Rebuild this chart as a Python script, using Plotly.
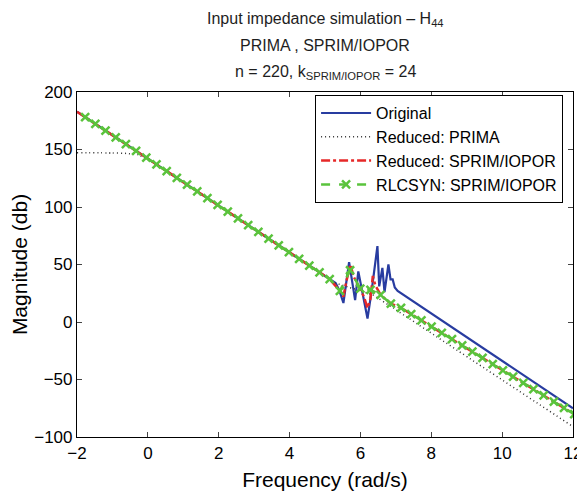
import plotly.graph_objects as go

# Original (full model)
orig_x = [-2.0, 5.30, 5.40, 5.52, 5.68, 5.85, 5.94, 6.20, 6.32, 6.48, 6.53, 6.62, 6.68, 6.79, 6.85, 6.91, 6.97, 7.05, 12.0]
orig_y = [182.8, 34.0, 28.0, 16.5, 52.0, 19.0, 44.0, 3.0, 28.0, 66.0, 31.0, 47.0, 26.0, 50.0, 37.0, 37.0, 30.0, 27.0, -75.0]

# Reduced: PRIMA
prima_x = [-2.0, -1.0, -0.6, -0.3, 0.0, 5.30, 5.80, 6.35, 6.93, 12.0]
prima_y = [147.2, 147.0, 146.6, 145.5, 141.5, 34.0, 29.0, 23.5, 12.0, -91.0]

# Reduced: SPRIM/IOPOR
sprim_x = [-2.0, 5.132, 5.42, 5.52, 5.60, 5.72, 5.80, 5.995, 6.10, 6.20, 6.28, 6.35, 6.42, 6.57, 6.858,
           7.146, 12.035]
sprim_y = [182.8, 37.3, 27.0, 22.0, 35.0, 50.0, 40.0, 29.0, 22.0, 12.0, 20.0, 40.0, 32.0, 23.5, 16.0,
           12.2, -80.2]

# RLCSYN: SPRIM/IOPOR (marker points)
rlc_x = [-1.770, -1.482, -1.195, -0.907, -0.620, -0.332, -0.044, 0.243, 0.531, 0.818,
         1.106, 1.394, 1.681, 1.969, 2.256, 2.544, 2.832, 3.119, 3.407, 3.694,
         3.982, 4.270, 4.557, 4.845, 5.132, 5.420, 5.708, 5.995, 6.283, 6.570,
         6.858, 7.146, 7.433, 7.721, 8.008, 8.296, 8.584, 8.871, 9.159, 9.446,
         9.734, 10.022, 10.309, 10.597, 10.884, 11.172, 11.460, 11.747, 12.035]
rlc_y = [178.1, 172.2, 166.4, 160.5, 154.6, 148.8, 142.9, 137.0, 131.2, 125.3,
         119.4, 113.6, 107.7, 101.8, 96.0, 90.1, 84.2, 78.4, 72.5, 66.6,
         60.8, 54.9, 49.0, 43.2, 37.3, 27.0, 45.0, 29.0, 28.0, 23.5,
         16.0, 12.2, 6.8, 1.4, -4.1, -9.5, -14.9, -20.4, -25.8, -31.2,
         -36.7, -42.1, -47.5, -53.0, -58.4, -63.9, -69.3, -74.7, -80.2]

x_ticks = [-2, 0, 2, 4, 6, 8, 10, 12]
y_ticks = [-100, -50, 0, 50, 100, 150, 200]

title_lines = ["Input impedance simulation – H<sub>44</sub>",
               "PRIMA , SPRIM/IOPOR",
               "n = 220, k<sub>SPRIM/IOPOR</sub> = 24"]

fig = go.Figure()
fig.add_trace(go.Scatter(x=orig_x, y=orig_y, mode="lines", name="Original",
                         line=dict(color="rgb(40,60,160)", width=2.2)))
fig.add_trace(go.Scatter(x=prima_x, y=prima_y, mode="lines", name="Reduced: PRIMA",
                         line=dict(color="rgb(50,50,50)", width=1.5, dash="1px,3px",
                                   shape="spline", smoothing=0.3)))
fig.add_trace(go.Scatter(x=sprim_x, y=sprim_y, mode="lines", name="Reduced: SPRIM/IOPOR",
                         line=dict(color="rgb(230,40,40)", width=2.5, dash="dashdot")))
fig.add_trace(go.Scatter(x=rlc_x, y=rlc_y, mode="lines+markers", name="RLCSYN: SPRIM/IOPOR",
                         line=dict(color="rgb(90,195,60)", width=2.5, dash="dash"),
                         marker=dict(symbol="x-thin", size=8, color="rgb(90,195,60)",
                                     line=dict(width=2.5, color="rgb(90,195,60)"))))

font_family = "Liberation Sans, Arial, sans-serif"
# page body has an 8px margin, so the figure is offset by (8, 8)
OFF = 8
FIG_W, FIG_H = 585 - OFF, 495 - OFF
PLOT_L, PLOT_R, PLOT_T, PLOT_B = 77 - OFF, 573 - OFF, 92 - OFF, 437 - OFF
plot_h = PLOT_B - PLOT_T
title_tops = [8 - OFF, 35 - OFF, 61 - OFF]
annotations = []
for line, top in zip(title_lines, title_tops):
    annotations.append(dict(text=line, xref="paper", yref="paper", x=0.5, xanchor="center",
                            y=(PLOT_B - top) / plot_h, yanchor="top", showarrow=False,
                            font=dict(size=16, family=font_family, color="rgb(30,30,30)")))

fig.update_layout(
    width=FIG_W, height=FIG_H,
    margin=dict(l=PLOT_L, r=FIG_W - PLOT_R, t=PLOT_T, b=FIG_H - PLOT_B, pad=0),
    paper_bgcolor="white", plot_bgcolor="white",
    font=dict(family=font_family, color="black"),
    annotations=annotations,
    xaxis=dict(range=[-2, 12], tickvals=x_ticks, ticks="inside", ticklen=5, mirror="allticks",
               showline=True, linecolor="black", linewidth=1.2, showgrid=False, zeroline=False,
               automargin=False,
               tickfont=dict(size=17), title=dict(text="Frequency (rad/s)", font=dict(size=21), standoff=10)),
    yaxis=dict(range=[-100, 200], tickvals=y_ticks, ticks="inside", ticklen=5, mirror="allticks",
               showline=True, linecolor="black", linewidth=1.2, showgrid=False, zeroline=False,
               automargin=False,
               tickfont=dict(size=17), title=dict(text="Magnitude (db)", font=dict(size=21), standoff=6)),
    legend=dict(x=0.98, y=0.991, xanchor="right", yanchor="top", bordercolor="black", borderwidth=1,
                bgcolor="white", font=dict(size=16), tracegroupgap=0, itemwidth=50),
    showlegend=True,
)

fig.write_html("out.html")
